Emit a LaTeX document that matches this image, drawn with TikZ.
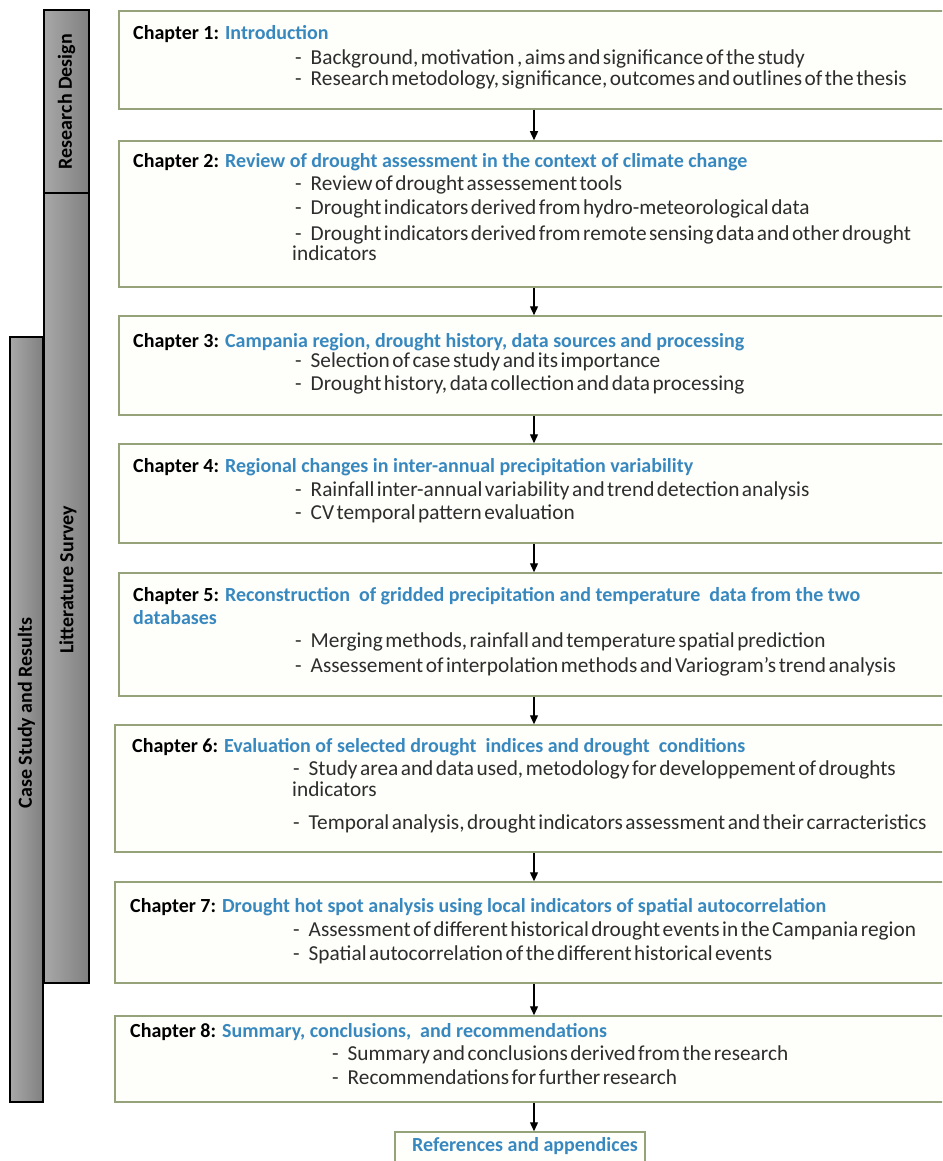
\documentclass[tikz,border=0pt]{standalone}
\usepackage{fontspec}
\setmainfont{Carlito}
\usetikzlibrary{arrows.meta}
\definecolor{boxline}{RGB}{150,163,122}
\definecolor{boxfill}{RGB}{254,254,250}
\definecolor{titleblue}{RGB}{56,136,192}
\definecolor{bodygray}{RGB}{45,45,45}
\definecolor{barlight}{RGB}{168,168,168}
\definecolor{bardark}{RGB}{128,128,128}
\newcommand{\tightsp}{\spaceskip=2.5pt\relax}
\tikzset{
  chapbox/.style={draw=boxline, line width=1.5pt, fill=boxfill, rectangle, inner sep=0pt},
  barbox/.style={draw=black, line width=1.2pt, left color=barlight, right color=bardark, rectangle, inner sep=0pt},
  bartext/.style={rotate=90, font=\fontsize{20}{22}\selectfont\bfseries, text=black, inner sep=0pt},
  ttl/.style={anchor=mid west, inner sep=0pt, font=\fontsize{20}{22}\selectfont\bfseries, text=black},
  bul/.style={anchor=mid west, inner sep=0pt, font=\fontsize{21.3}{23}\selectfont\tightsp, text=bodygray},
  flow/.style={draw=black, line width=1.3pt, -{Triangle[length=9pt,width=8pt]}},
}
\newcommand{\bl}{-\hspace{9pt}}
\newcommand{\ct}[2]{Chapter #1: \textcolor{titleblue}{#2}}
\begin{document}
\begin{tikzpicture}[x=1pt,y=-1pt]
\useasboundingbox (0,0) rectangle (942,1161);
\clip (0,0) rectangle (942,1161);
\fill[white] (0,0) rectangle (942,1161);

% side bars
\node[barbox, minimum width=33pt, minimum height=765pt] (csr) at (26.5,719.5) {};
\node[barbox, minimum width=45pt, minimum height=790pt] (ls) at (66.5,588) {};
\node[barbox, minimum width=45pt, minimum height=183pt] (rd) at (66.5,101.5) {};
\node[bartext] (rdt) at (rd.center) {Research Design};
\node[bartext] (lst) at (68,580) {Litterature Survey};
\node[bartext] (csrt) at (26.5,713) {Case Study and Results};

% chapter boxes
\node[chapbox, minimum width=831pt, minimum height=98pt] (b1) at (534.5,60) {};
\node[chapbox, minimum width=831pt, minimum height=146pt] (b2) at (534.5,214) {};
\node[chapbox, minimum width=831pt, minimum height=99pt] (b3) at (534.5,365.5) {};
\node[chapbox, minimum width=831pt, minimum height=99pt] (b4) at (534.5,493.5) {};
\node[chapbox, minimum width=831pt, minimum height=123pt] (b5) at (534.5,634.5) {};
\node[chapbox, minimum width=835pt, minimum height=127pt] (b6) at (532.5,788.5) {};
\node[chapbox, minimum width=835pt, minimum height=101pt] (b7) at (532.5,932.5) {};
\node[chapbox, minimum width=835pt, minimum height=86pt] (b8) at (532.5,1059) {};
\node[chapbox, minimum width=250pt, minimum height=50pt] (ref) at (520,1157) {};
\node[anchor=mid, inner sep=0pt, font=\fontsize{20}{22}\selectfont\bfseries, text=titleblue] (reft) at (525,1149) {References and appendices};

% texts
\node[ttl] (t1) at (133,37) {\ct{1}{Introduction}};
\node[bul] (t1a) at (295,62) {\bl Background, motivation , aims and significance of the study};
\node[bul] (t1b) at (295,83) {\bl Research metodology, significance, outcomes and outlines of the thesis};

\node[ttl] (t2) at (133,165) {\ct{2}{Review of drought assessment in the context of climate change}};
\node[bul] (t2a) at (295,188) {\bl Review of drought assessement tools};
\node[bul] (t2b) at (295,212) {\bl Drought indicators derived from hydro-meteorological data};
\node[bul] (t2c) at (295,238) {\bl Drought indicators derived from remote sensing data and other drought};
\node[bul] (t2d) at (292,258) {indicators};

\node[ttl] (t3) at (133,345) {\ct{3}{Campania region, drought history, data sources and processing}};
\node[bul] (t3a) at (295,365) {\bl Selection of case study and its importance};
\node[bul] (t3b) at (295,388) {\bl Drought history, data collection and data processing};

\node[ttl] (t4) at (133,470) {\ct{4}{Regional changes in inter-annual precipitation variability}};
\node[bul] (t4a) at (295,494) {\bl Rainfall inter-annual variability and trend detection analysis};
\node[bul] (t4b) at (295,517) {\bl CV temporal pattern evaluation};

\node[ttl] (t5) at (133,599) {\ct{5}{Reconstruction \ of gridded precipitation and temperature \ data from the two}};
\node[ttl, text=titleblue] (t5x) at (133,622) {databases};
\node[bul] (t5a) at (295,645) {\bl Merging methods, rainfall and temperature spatial prediction};
\node[bul] (t5b) at (295,670) {\bl Assessement of interpolation methods and Variogram’s trend analysis};

\node[ttl] (t6) at (132,750) {\ct{6}{Evaluation of selected drought \ indices and drought \ conditions}};
\node[bul] (t6a) at (293,773) {\bl Study area and data used, metodology for developpement of droughts};
\node[bul] (t6b) at (292,794) {indicators};
\node[bul] (t6c) at (293,827) {\bl Temporal analysis, drought indicators assessment and their carracteristics};

\node[ttl] (t7) at (130,910) {\ct{7}{Drought hot spot analysis using local indicators of spatial autocorrelation}};
\node[bul] (t7a) at (293,934) {\bl Assessment of different historical drought events in the Campania region};
\node[bul] (t7b) at (293,958) {\bl Spatial autocorrelation of the different historical events};

\node[ttl] (t8) at (130,1035) {\ct{8}{Summary, conclusions, \ and recommendations}};
\node[bul] (t8a) at (332,1058) {\bl Summary and conclusions derived from the research};
\node[bul] (t8b) at (332,1082) {\bl Recommendations for further research};

% arrows
\coordinate (ax) at (534,0);
\draw[flow] (b1.south -| ax) -- (b2.north -| ax);
\draw[flow] (b2.south -| ax) -- (b3.north -| ax);
\draw[flow] (b3.south -| ax) -- (b4.north -| ax);
\draw[flow] (b4.south -| ax) -- (b5.north -| ax);
\draw[flow] (b5.south -| ax) -- (b6.north -| ax);
\draw[flow] (b6.south -| ax) -- (b7.north -| ax);
\draw[flow] (b7.south -| ax) -- (b8.north -| ax);
\draw[flow] (b8.south -| ax) -- (ref.north -| ax);
\end{tikzpicture}
\end{document}
